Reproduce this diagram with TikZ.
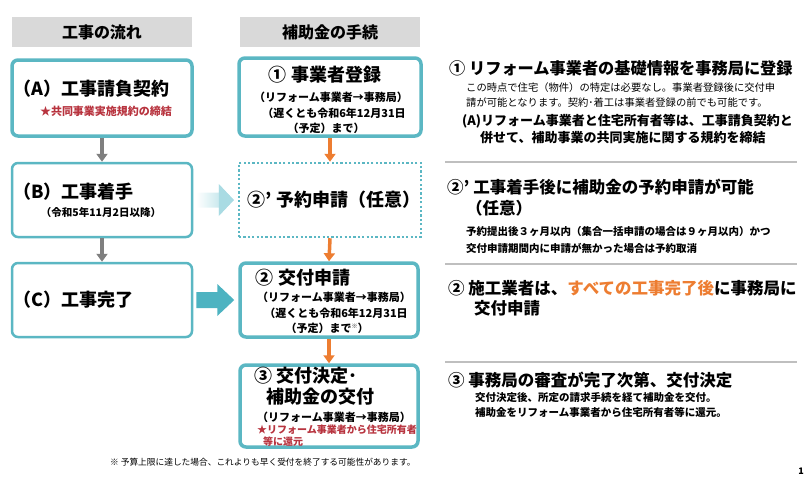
\documentclass[tikz,border=0pt]{standalone}
\usepackage{fontspec}
\setmainfont{Noto Sans CJK JP}
\usetikzlibrary{arrows.meta,calc}
\definecolor{tealb}{HTML}{5BB7C3}
\definecolor{tealarrow}{HTML}{4DB3C1}
\definecolor{teallight}{HTML}{A9DBE3}
\definecolor{hdrgray}{HTML}{D9D9D9}
\definecolor{orng}{HTML}{ED7D31}
\definecolor{grayarr}{HTML}{7F7F7F}
\definecolor{redtxt}{HTML}{B8343F}
\definecolor{sepgray}{HTML}{BFBFBF}
\newcommand{\fs}[1]{\fontsize{#1}{#1}\selectfont}
\begin{document}
\begin{tikzpicture}[x=1pt,y=-1pt,
  hdr/.style={fill=hdrgray,minimum width=180,minimum height=30,inner sep=0,font=\bfseries\fs{16}},
  flowbox/.style={draw=tealb,rounded corners=6,fill=white,inner sep=0,line width=3.5},
  thinbox/.style={flowbox,line width=2.5},
  dotbox/.style={draw=tealb,fill=white,inner sep=0,line width=2.5,dash pattern=on 2.2 off 2.2},
  ttl/.style={inner sep=0,font=\bfseries\fs{18}},
  sub/.style={inner sep=0,font=\bfseries\fs{11}},
  redsub/.style={inner sep=0,font=\bfseries\fs{10.5},text=redtxt},
  rh/.style={inner sep=0,anchor=west,font=\bfseries\fs{16.5}},
  rs/.style={inner sep=0,anchor=west,font=\fs{10.3}},
  rsb/.style={inner sep=0,anchor=west,font=\bfseries\fs{10.5}},
  rm/.style={inner sep=0,anchor=west,font=\bfseries\fs{13}},
  grayarrow/.style={draw=grayarr,line width=3.5,-{Triangle[length=8,width=11]}},
  orarrow/.style={draw=orng,line width=3.5,-{Triangle[length=8,width=11]}},
  sep/.style={draw=sepgray,line width=1.2}
]
\useasboundingbox (0,0) rectangle (807,477);
% headers
\node[hdr] (h1) at (102,32) {工事の流れ};
\node[hdr] (h2) at (330,32) {補助金の手続};
% left boxes
\node[flowbox,minimum width=180,minimum height=76] (A) at (102,98) {};
\node[thinbox,minimum width=180,minimum height=74] (B) at (102,200) {};
\node[thinbox,minimum width=180,minimum height=74] (C) at (102,300) {};
\node[ttl,anchor=west] (At) at (13,89) {（A）工事請負契約};
\node[redsub,font=\bfseries\fs{11}] (As) at (106,111) {★共同事業実施規約の締結};
\node[ttl,anchor=west] (Bt) at (13,192) {（B）工事着手};
\node[sub,font=\bfseries\fs{10.5}] (Bs) at (101,213) {（令和5年11月2日以降）};
\node[ttl,anchor=west] (Ct) at (13,300) {（C）工事完了};
% right boxes
\node[flowbox,minimum width=182,minimum height=78] (S1) at (330,97) {};
\node[dotbox,minimum width=182,minimum height=74] (S2p) at (330,200) {};
\node[flowbox,minimum width=178,minimum height=74] (S2) at (329,300) {};
\node[flowbox,minimum width=178,minimum height=82] (S3) at (329,406) {};
\node[ttl] (S1t) at (325,75) {① 事業者登録};
\node[sub] (S1a) at (331,97) {（リフォーム事業者→事務局）};
\node[sub] (S1b) at (334,113) {（遅くとも令和6年12月31日};
\node[sub] (S1c) at (326,128) {（予定）まで）};
\node[ttl] (S2pt) at (334,200) {②’ 予約申請（任意）};
\node[ttl] (S2t) at (303,278) {② 交付申請};
\node[sub] (S2a) at (334,297) {（リフォーム事業者→事務局）};
\node[sub] (S2b) at (336,313) {（遅くとも令和6年12月31日};
\node[sub] (S2c) at (327,328) {（予定）まで\raisebox{0.35em}{\fs{6}※}）};
\node[ttl] (S3t) at (306,376) {③ 交付決定･};
\node[ttl] (S3u) at (320,397) {補助金の交付};
\node[sub] (S3a) at (334,417) {（リフォーム事業者→事務局）};
\node[redsub,anchor=west,font=\bfseries\fs{10}] (S3b) at (257,430) {★リフォーム事業者から住宅所有者};
\node[redsub,anchor=west,font=\bfseries\fs{10}] (S3c) at (263,442) {等に還元};
% connectors
\draw[grayarrow] (A.south) -- (B.north);
\draw[grayarrow] (B.south) -- (C.north);
\draw[orarrow] (S1.south) -- (S2p.north);
\draw[orarrow] (S2p.south) -- (S2.north);
\draw[orarrow] (S2.south) -- (S3.north);
% block arrows
\coordinate (ba) at ($(B.east)+(3,0)$);
\coordinate (bb) at ($(S2p.west)+(-4,0)$);
\shade[left color=white,right color=teallight,shading angle=90]
  ($(ba)+(0,-7.5)$) -- ($(bb)+(-15,-7.5)$) -- ($(bb)+(-15,-16)$) -- (bb) -- ($(bb)+(-15,16)$) -- ($(bb)+(-15,7.5)$) -- ($(ba)+(0,7.5)$) -- cycle;
\fill[teallight] ($(bb)+(-15,-16)$) -- (bb) -- ($(bb)+(-15,16)$) -- cycle;
\coordinate (ca) at ($(C.east)+(3,0)$);
\coordinate (cb) at ($(S2.west)+(-4,0)$);
\fill[tealarrow]
  ($(ca)+(0,-8)$) -- ($(cb)+(-17,-8)$) -- ($(cb)+(-17,-16)$) -- (cb) -- ($(cb)+(-17,16)$) -- ($(cb)+(-17,8)$) -- ($(ca)+(0,8)$) -- cycle;
% right column texts
\node[rh,font=\bfseries\fs{16.2}] (r1) at (449,68) {① リフォーム事業者の基礎情報を事務局に登録};
\node[rs] (r1a) at (466,88) {この時点で住宅（物件）の特定は必要なし。事業者登録後に交付申};
\node[rs] (r1b) at (466,103) {請が可能となります。契約･着工は事業者登録の前でも可能です。};
\node[rm] (r1c) at (462,121) {(A)リフォーム事業者と住宅所有者等は、工事請負契約と};
\node[rm] (r1d) at (480,138) {併せて、補助事業の共同実施に関する規約を締結};
\coordinate (s1a) at (445,162); \coordinate (s1b) at (797,162);
\draw[sep] (s1a) -- (s1b);
\node[rh] (r2) at (447,187) {②’ 工事着手後に補助金の予約申請が可能};
\node[rh] (r2b) at (466,208) {（任意）};
\node[rsb] (r2c) at (466,232) {予約提出後３ヶ月以内（集合一括申請の場合は９ヶ月以内）かつ};
\node[rsb] (r2d) at (466,248) {交付申請期間内に申請が無かった場合は予約取消};
\coordinate (s2a) at (445,264); \coordinate (s2b) at (797,264);
\draw[sep] (s2a) -- (s2b);
\node[rh] (r3) at (448,288) {② 施工業者は、\textcolor{orng}{すべての工事完了後}に事務局に};
\node[rh] (r3b) at (474,308) {交付申請};
\coordinate (s3a) at (445,362); \coordinate (s3b) at (797,362);
\draw[sep] (s3a) -- (s3b);
\node[rh] (r4) at (448,380) {③ 事務局の審査が完了次第、交付決定};
\node[rsb] (r4a) at (475,397) {交付決定後、所定の請求手続を経て補助金を交付。};
\node[rsb] (r4b) at (475,412) {補助金をリフォーム事業者から住宅所有者等に還元。};
% footnote
\node[inner sep=0,anchor=west,font=\fs{8.7}] (fn) at (110,462) {※ 予算上限に達した場合、これよりも早く受付を終了する可能性があります。};
\node[inner sep=0,font=\bfseries\fs{9}] (pg) at (801,471) {1};
\end{tikzpicture}
\end{document}
